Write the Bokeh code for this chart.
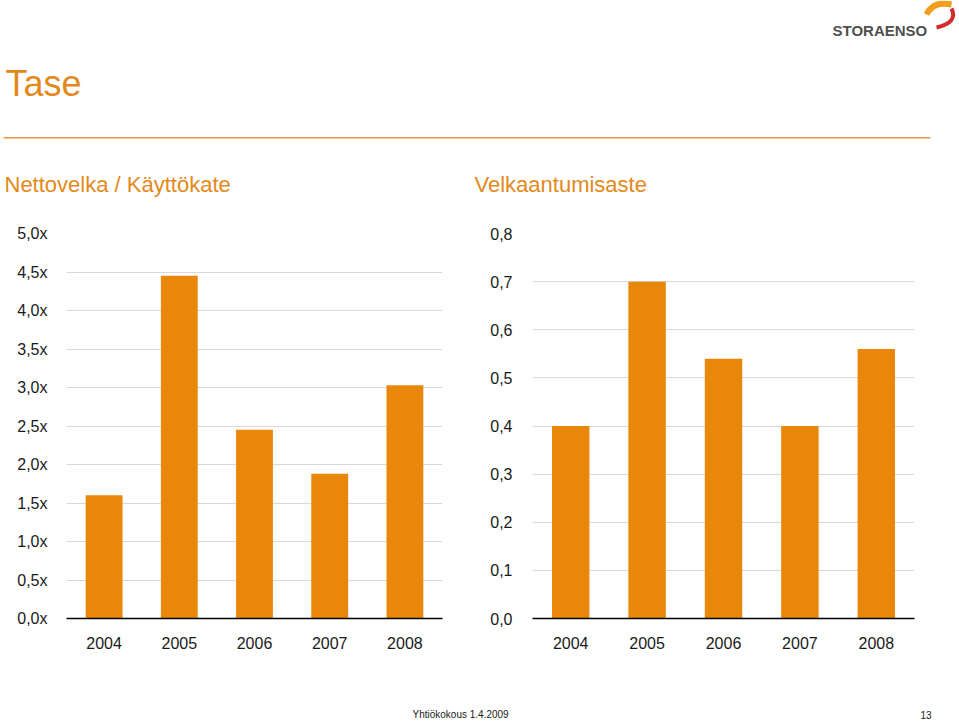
from bokeh.plotting import figure
from bokeh.layouts import column, row
from bokeh.models import Range1d, Label, FixedTicker
from bokeh.embed import file_html
from bokeh.resources import INLINE

# ---- data ----
years = ["2004", "2005", "2006", "2007", "2008"]
net_debt_to_ebitda = [1.6, 4.45, 2.45, 1.88, 3.03]
gearing = [0.40, 0.70, 0.54, 0.40, 0.56]

left_ticks = [0.0, 0.5, 1.0, 1.5, 2.0, 2.5, 3.0, 3.5, 4.0, 4.5, 5.0]
left_tick_labels = ["0,0x", "0,5x", "1,0x", "1,5x", "2,0x", "2,5x",
                    "3,0x", "3,5x", "4,0x", "4,5x", "5,0x"]
right_ticks = [0.0, 0.1, 0.2, 0.3, 0.4, 0.5, 0.6, 0.7, 0.8]
right_tick_labels = ["0,0", "0,1", "0,2", "0,3", "0,4", "0,5", "0,6", "0,7", "0,8"]

title_text = "Tase"
left_subtitle = "Nettovelka / Käyttökate"
right_subtitle = "Velkaantumisaste"
footer_text = "Yhtiökokous 1.4.2009"
page_number = "13"

# ---- style ----
BAR = "#E8870A"
TITLE_ORANGE = "#E3891C"
RULE = "#E49B3A"
GRID = "#D9D9D9"
TXT = "#1a1a1a"
FONT = "Liberation Sans"
W = 959


def blank(w, h):
    p = figure(width=w, height=h, x_range=Range1d(0, w), y_range=Range1d(h, 0),
               toolbar_location=None, output_backend="svg", min_border=0,
               x_axis_type=None, y_axis_type=None)
    p.grid.visible = False
    p.outline_line_color = None
    return p


# ---- header ----
hdr = blank(W, 213)
hdr.add_layout(Label(x=5, y=82.5, text=title_text, text_font=FONT, text_font_size="36px",
                     text_color=TITLE_ORANGE, text_baseline="alphabetic"))
hdr.segment(x0=[3], y0=[137.3], x1=[930], y1=[137.3], line_color=RULE, line_width=1.6)
hdr.add_layout(Label(x=4, y=184, text=left_subtitle, text_font=FONT, text_font_size="22px",
                     text_color=TITLE_ORANGE, text_baseline="alphabetic"))
hdr.add_layout(Label(x=474, y=184, text=right_subtitle, text_font=FONT, text_font_size="22px",
                     text_color=TITLE_ORANGE, text_baseline="alphabetic"))
# logo
hdr.add_layout(Label(x=832, y=30, text="STORAENSO", text_font=FONT, text_font_size="15px",
                     text_font_style="bold", text_color="#4f4f4f", text_baseline="alphabetic"))
hdr.quadratic(x0=[926], y0=[14], x1=[951], y1=[4], cx=[933], cy=[0],
              line_color="#F29E1F", line_width=6)
hdr.quadratic(x0=[951], y0=[8], x1=[936], y1=[27], cx=[958], cy=[22],
              line_color="#D42B2B", line_width=4)


# ---- bar charts ----
def bar_chart(w, values, ticks, labels, ymax, left, right, standoff):
    p = figure(width=w, height=452, x_range=years, y_range=Range1d(0, ymax),
               toolbar_location=None, output_backend="svg",
               min_border_left=left, min_border_right=right,
               min_border_top=20, min_border_bottom=47)
    p.vbar(x=years, top=values, width=0.49, color=BAR, line_color=None)
    p.outline_line_color = None
    p.xgrid.visible = False
    p.ygrid.ticker = FixedTicker(ticks=ticks)
    p.ygrid.grid_line_color = GRID
    p.ygrid.grid_line_width = 1
    p.yaxis.ticker = FixedTicker(ticks=ticks)
    p.yaxis.major_label_overrides = dict(zip(ticks, labels))
    p.yaxis.axis_line_color = None
    p.yaxis.major_tick_line_color = None
    p.yaxis.minor_tick_line_color = None
    p.yaxis.major_label_standoff = standoff
    p.yaxis.major_label_text_font = FONT
    p.yaxis.major_label_text_font_size = "16px"
    p.yaxis.major_label_text_color = TXT
    p.xaxis.axis_line_color = "black"
    p.xaxis.axis_line_width = 1.4
    p.xaxis.major_tick_line_color = None
    p.xaxis.minor_tick_line_color = None
    p.xaxis.major_label_standoff = 12
    p.xaxis.major_label_text_font = FONT
    p.xaxis.major_label_text_font_size = "16px"
    p.xaxis.major_label_text_color = TXT
    return p


left = bar_chart(470, net_debt_to_ebitda, left_ticks, left_tick_labels, 5.0, 66, 28, 13)
right = bar_chart(489, gearing, right_ticks, right_tick_labels, 0.8, 62, 45, 14)

# ---- footer ----
ftr = blank(W, 56)
ftr.add_layout(Label(x=412, y=49, text=footer_text, text_font=FONT, text_font_size="10px",
                     text_color=TXT, text_baseline="alphabetic"))
ftr.add_layout(Label(x=931, y=49, text=page_number, text_font=FONT, text_font_size="10px",
                     text_color=TXT, text_baseline="alphabetic", text_align="right"))

layout = column(hdr, row(left, right), ftr)
open("out.html", "w").write(file_html(layout, INLINE))
